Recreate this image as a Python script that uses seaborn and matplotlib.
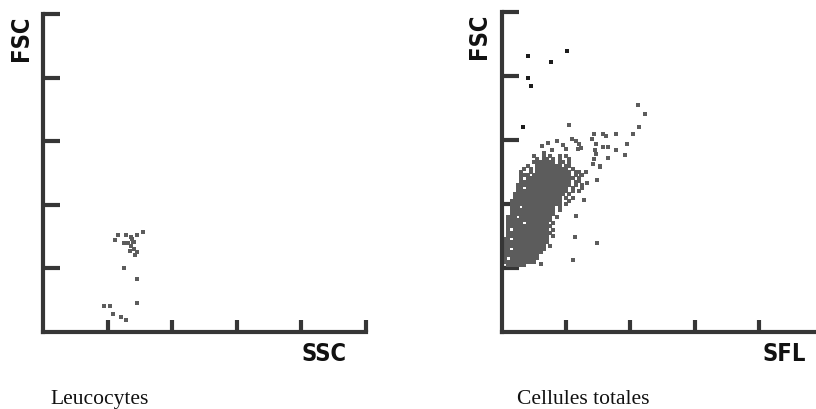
import numpy as np
import pandas as pd
import matplotlib
matplotlib.use("Agg")
import matplotlib.pyplot as plt
import seaborn as sns

# --- data (axis units: 0..5, one unit per tick) ---

# left panel: Leucocytes (SSC vs FSC)
leuco_ssc = [1.16, 1.29, 1.45, 1.55, 1.12, 1.26, 1.32, 1.38, 1.40, 1.36, 1.34,
             1.41, 1.46, 1.42, 1.25, 1.46, 1.46, 0.95, 1.03, 1.08, 1.20, 1.29,
             1.36, 1.41]
leuco_fsc = [1.53, 1.53, 1.53, 1.57, 1.45, 1.40, 1.40, 1.46, 1.42, 1.36, 1.28,
             1.31, 1.26, 1.21, 1.00, 0.83, 0.46, 0.41, 0.41, 0.28, 0.23, 0.19,
             1.49, 1.41]

# right panel: Cellules totales, dense core as an occupancy grid
# (columns: SFL from 0.00 step 0.05, rows: FSC from 2.75 down step 0.05)
CELL = 0.05
CORE_TOP = 2.75
core_rows = [
    "..........#..#.#..#.#......",
    "...........#.##.#.#..#.....",
    "..........#######.##.#.....",
    "........#..########.##.....",
    ".......#.#.##########.#....",
    "......#..#.###########.##..",
    "......###.############.#.#.",
    "......#.###############.#..",
    "......################.#...",
    ".....#################.#.#.",
    ".....##.#############.#....",
    ".....################.#....",
    "....################.#.....",
    "....###############.#.#....",
    "...################..#.....",
    "...################.#......",
    "...###.##########.#........",
    "...##############.#........",
    "...##############..........",
    "..###.##########.#.........",
    "..##############...........",
    "..#####.#######.#..........",
    "..##############...........",
    "..#.###########.#..........",
    "..##############...........",
    "..#############.#..........",
    ".##.###########............",
    ".##############............",
    ".#############.#...........",
    ".##.##########.............",
    "#############..............",
    ".###########...............",
    "##.#########...............",
    ".##########................",
    "..######...................",
]

# scattered events around the core
halo_sfl = [1.04, 2.12, 2.22, 2.13, 2.04, 1.78, 1.95, 1.78, 1.91, 1.65, 1.57,
            1.44, 1.46, 1.57, 1.65, 1.46, 1.53, 1.48, 1.27, 1.15, 1.14, 1.48,
            1.10, 0.60, 1.62, 1.40, 1.45, 1.44, 1.20, 1.15, 1.09, 1.23, 1.18,
            1.41, 1.52, 1.31, 1.23, 1.20, 1.33, 1.25, 1.20, 0.62, 0.72, 0.85,
            0.95, 0.78, 1.00, 0.66]
halo_fsc = [3.23, 3.54, 3.41, 3.20, 3.10, 3.10, 2.93, 2.85, 2.76, 2.72, 3.09,
            3.09, 2.93, 2.89, 2.89, 2.78, 2.59, 2.38, 2.07, 1.81, 1.48, 1.39,
            1.13, 1.07, 3.06, 3.01, 2.85, 2.70, 2.93, 2.99, 3.01, 2.88, 2.86,
            2.63, 2.58, 2.50, 2.46, 2.36, 2.33, 2.25, 2.20, 2.90, 2.95, 2.98,
            2.92, 2.84, 2.86, 2.80]

# darker isolated events near the top
outlier_sfl = [0.41, 0.76, 1.01, 0.41, 0.45, 0.33]
outlier_fsc = [4.31, 4.22, 4.39, 3.97, 3.84, 3.20]

TICKS = [1, 2, 3, 4, 5]

# build core point list from the grid
core_x, core_y = [], []
for r, row in enumerate(core_rows):
    for i, ch in enumerate(row):
        if ch == "#":
            core_x.append(i * CELL)
            core_y.append(CORE_TOP - r * CELL)

df_leuco = pd.DataFrame({"SSC": leuco_ssc, "FSC": leuco_fsc})
df_core = pd.DataFrame({"SFL": core_x + halo_sfl, "FSC": core_y + halo_fsc})
df_out = pd.DataFrame({"SFL": outlier_sfl, "FSC": outlier_fsc})

sns.set_style("white")
plt.rcParams["font.family"] = ["DejaVu Sans"]

AXIS_C = "#363636"
PT_C = "#5c5c5c"

fig = plt.figure(figsize=(8.16, 4.10), dpi=100)
ax1 = fig.add_axes([43 / 816, 77 / 410, 323 / 816, 318 / 410])
ax2 = fig.add_axes([502 / 816, 77 / 410, 321 / 816, 320 / 410])

sns.scatterplot(data=df_leuco, x="SSC", y="FSC", ax=ax1, marker="s", s=6,
                color=PT_C, linewidth=0)
sns.scatterplot(data=df_core, x="SFL", y="FSC", ax=ax2, marker="s", s=5.5,
                color=PT_C, linewidth=0)
sns.scatterplot(data=df_out, x="SFL", y="FSC", ax=ax2, marker="s", s=6,
                color="#1c1c1c", linewidth=0)

for ax in (ax1, ax2):
    ax.set_xlim(0, 5)
    ax.set_ylim(0, 5)
    ax.set_xticks(TICKS)
    ax.set_yticks(TICKS)
    ax.set_xticklabels([])
    ax.set_yticklabels([])
    ax.set_xlabel("")
    ax.set_ylabel("")
    sns.despine(ax=ax)
    for s in ("left", "bottom"):
        ax.spines[s].set_linewidth(3.0)
        ax.spines[s].set_color(AXIS_C)
        ax.spines[s].set_capstyle("projecting")
    ax.tick_params(axis="y", left=True, direction="in", length=12, width=3.0,
                   color=AXIS_C)
    ax.tick_params(axis="x", bottom=True, direction="in", length=8.5, width=3.0,
                   color=AXIS_C)
    ax.patch.set_alpha(0)

lab = dict(fontsize=17, fontweight="bold", fontstretch="condensed",
           color="#111111")
fig.text(21 / 816, 1 - 38 / 410, "FSC", rotation=90, ha="center", va="center", **lab)
fig.text(479 / 816, 1 - 36 / 410, "FSC", rotation=90, ha="center", va="center", **lab)
fig.text(324 / 816, 1 - 354 / 410, "SSC", ha="center", va="center", **lab)
fig.text(784 / 816, 1 - 354 / 410, "SFL", ha="center", va="center", **lab)

cap = dict(fontsize=15.5, family="Liberation Serif", color="#111111")
fig.text(50 / 816, 1 - 400 / 410, "Leucocytes", ha="left", va="center", **cap)
fig.text(517 / 816, 1 - 400 / 410, "Cellules totales", ha="left", va="center", **cap)

fig.savefig("out.png", dpi=100)
